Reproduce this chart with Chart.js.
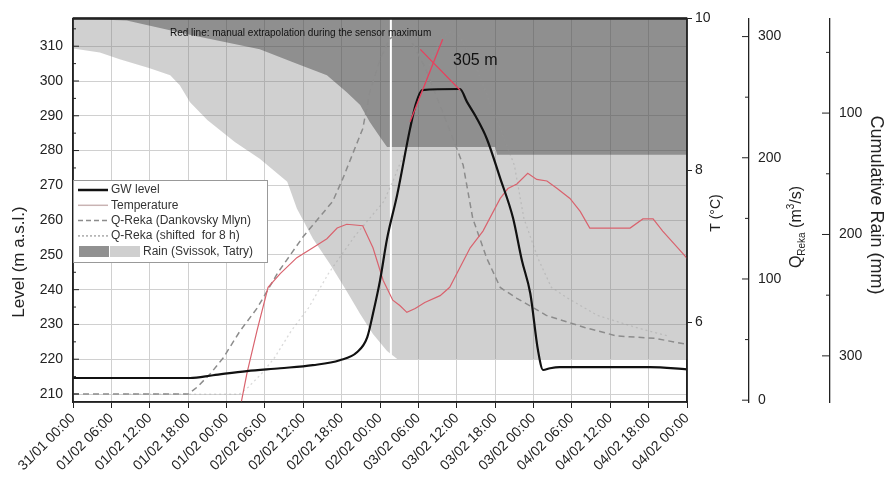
<!DOCTYPE html>
<html>
<head>
<meta charset="utf-8">
<script src="https://cdn.jsdelivr.net/npm/chart.js@4.4.1/dist/chart.umd.min.js"></script>
<style>
html, body { margin: 0; padding: 0; background: #fff; }
#wrap { width: 896px; height: 484px; }
</style>
</head>
<body>
<div id="wrap"><canvas id="gwChart" width="896" height="484"></canvas></div>
<script>
const tickLabels = ['31/01 00:00', '01/02 06:00', '01/02 12:00', '01/02 18:00', '01/02 00:00',
  '02/02 06:00', '02/02 12:00', '02/02 18:00', '02/02 00:00', '03/02 06:00', '03/02 12:00',
  '03/02 18:00', '03/02 00:00', '04/02 06:00', '04/02 12:00', '04/02 18:00', '04/02 00:00'];

// hours since start, groundwater level (m a.s.l.)
const gwHours = [0, 18.3, 21.9, 27.2, 32.4, 37.5, 41.7, 44.4, 46.0, 46.9, 48.0, 49.1, 50.7, 52.7, 53.6, 54.6,
  60.5, 61.6, 63.0, 64.7, 66.8, 68.8, 70.2, 71.5, 72.7, 73.5, 74.6, 76.1, 90.2, 96];
const gwLevel = [214.6, 214.6, 215.4, 216.6, 217.4, 218.3, 219.7, 222.0, 226.3, 233.1, 242.6, 254.6, 267.4, 286.3, 293.4, 297.4,
  297.7, 294.0, 289.7, 283.4, 272.0, 260.6, 248.3, 238.9, 222.6, 216.9, 217.4, 217.7, 217.7, 217.1];

// temperature (deg C)
const tempHours = [26.2, 27.2, 28.8, 30.5, 32.4, 35.0, 37.5, 39.7, 41.3, 42.8, 45.3, 46.9, 48.5, 50.0, 51.1, 52.2, 53.5,
  55.0, 57.4, 58.9, 62.1, 64.1, 66.8, 68.0, 69.4, 71.1, 72.5, 74.1, 75.7, 77.7, 79.3, 80.8, 87.1, 89.1, 90.7, 92.2, 95.4, 96];
const tempC = [4.9, 5.33, 5.90, 6.46, 6.64, 6.85, 6.98, 7.10, 7.24, 7.29, 7.27, 6.98, 6.55, 6.29, 6.22, 6.13, 6.18,
  6.26, 6.35, 6.46, 6.98, 7.20, 7.63, 7.76, 7.82, 7.96, 7.88, 7.86, 7.76, 7.63, 7.46, 7.24, 7.24, 7.36, 7.36, 7.20, 6.90, 6.84];

// river discharge (m3/s)
const qHours = [0, 18.0, 19.4, 21.5, 23.5, 26.1, 28.8, 32.0, 36.0, 40.6, 42.2, 45.3, 46.4, 48.0, 49.5, 51.0, 52.5,
  55.0, 58.0, 61.0, 62.5, 64.7, 66.8, 69.4, 74.0, 80.0, 85.0, 91.0, 96];
const qReka = [5, 5, 10.7, 22, 35, 57, 76, 105, 135, 164, 183, 224, 254, 281, 298, 304, 300,
  275, 235, 194, 150, 117, 93, 84, 70, 60, 53, 51, 46];
const qShiftHours = [8, 26.0, 27.4, 29.5, 31.5, 34.1, 36.8, 40.0, 44.0, 48.6, 50.2, 53.3, 54.4, 56.0, 57.5, 59.0, 60.5,
  63.0, 66.0, 69.0, 70.5, 72.7, 74.8, 77.4, 82.0, 88.0, 93.0];
const qShifted = [5, 5, 10.7, 22, 35, 57, 76, 105, 135, 164, 183, 224, 254, 281, 298, 304, 300,
  275, 235, 194, 150, 117, 93, 84, 70, 60, 53];

// cumulative rain (mm), hanging from the top
const rainDarkHours = [0, 8.4, 18.8, 24.1, 29.2, 34.4, 39.7, 42.8, 44.9, 46.4, 48.0, 49.1, 66.0, 66.3, 96];
const rainDark = [22.1, 23.8, 36.1, 41.8, 47.5, 58.2, 68.9, 82.8, 93.4, 107.4, 119.7, 127.9, 127.9, 134.4, 134.4];
const rainLightHours = [0, 4.2, 7.3, 12.0, 15.2, 16.7, 18.3, 21.0, 25.3, 29.2, 33.5, 35.0, 37.5, 40.2, 42.8, 44.9,
  46.9, 49.1, 50.7, 96];
const rainLight = [46.7, 50, 55.7, 63, 68.9, 77, 91, 105.7, 123.8, 137.7, 156.6, 178.7, 203.3, 224.6, 246.7, 265.6,
  282, 295.9, 302.5, 302.5];

// manual extrapolation of the peak
const redRiseHours = [52.7, 57.8];
const redRiseLevel = [288.3, 312.0];
const redFallHours = [54.3, 60.5];
const redFallLevel = [309.1, 297.4];
const gapHours = [49.7, 49.7];
const gapLevel = [318, 220.6];

const FONT = '"Liberation Sans", Arial, sans-serif';

function pts(xs, ys) {
  return xs.map(function(x, i) { return { x: x, y: ys[i] }; });
}

function lineSet(label, xs, ys, axis, color, width, dash, order) {
  return {
    label: label,
    data: pts(xs, ys),
    yAxisID: axis,
    borderColor: color,
    borderWidth: width,
    borderDash: dash || [],
    pointRadius: 0,
    fill: false,
    tension: 0,
    order: order
  };
}

const decor = {
  id: 'decor',
  afterDraw: function(chart) {
    const ctx = chart.ctx;
    const a = chart.chartArea;
    const sy = chart.scales.y, sq = chart.scales.yQ, sr = chart.scales.yRain;
    ctx.save();

    // plot frame
    ctx.strokeStyle = '#222';
    ctx.lineWidth = 1.5;
    ctx.strokeRect(a.left, a.top, a.right - a.left, a.bottom - a.top);
    ctx.lineWidth = 2.5;
    ctx.beginPath(); ctx.moveTo(a.left, a.top); ctx.lineTo(a.right, a.top); ctx.stroke();

    // inward ticks on the level axis
    ctx.lineWidth = 1;
    for (let v = 210; v <= 315; v += 5) {
      const y = sy.getPixelForValue(v);
      ctx.beginPath(); ctx.moveTo(a.left, y); ctx.lineTo(a.left + (v % 10 === 0 ? 6 : 3), y); ctx.stroke();
    }
    // ticks pointing left on the Q and rain axes
    for (let v = 0; v <= 300; v += 50) {
      const y = sq.getPixelForValue(v);
      ctx.beginPath(); ctx.moveTo(sq.left - (v % 100 === 0 ? 7 : 4), y); ctx.lineTo(sq.left, y); ctx.stroke();
    }
    for (let v = 50; v <= 300; v += 50) {
      const y = sr.getPixelForValue(v);
      ctx.beginPath(); ctx.moveTo(sr.left - (v % 100 === 0 ? 8 : 4), y); ctx.lineTo(sr.left, y); ctx.stroke();
    }

    // axis titles
    ctx.fillStyle = '#222';
    ctx.textBaseline = 'middle';
    ctx.textAlign = 'center';
    function vText(txt, x, y, size, ang) {
      ctx.save();
      ctx.translate(x, y);
      ctx.rotate(ang);
      ctx.font = size + 'px ' + FONT;
      ctx.fillText(txt, 0, 0);
      ctx.restore();
    }
    vText('Level (m a.s.l.)', 19, 262, 17, -Math.PI / 2);
    vText('T (°C)', 716, 213, 14, -Math.PI / 2);
    vText('Cumulative Rain (mm)', 876, 205, 18, Math.PI / 2);

    // Q title with sub- and superscript
    ctx.save();
    ctx.translate(797, 227);
    ctx.rotate(-Math.PI / 2);
    ctx.textAlign = 'left';
    const parts = [['Q', 16, 0], ['Reka', 10, 5], [' (m', 16, 0], ['3', 10, -6], ['/s)', 16, 0]];
    let total = 0;
    parts.forEach(function(p) { ctx.font = p[1] + 'px ' + FONT; total += ctx.measureText(p[0]).width; });
    let cx = -total / 2;
    parts.forEach(function(p) {
      ctx.font = p[1] + 'px ' + FONT;
      ctx.fillText(p[0], cx, p[2]);
      cx += ctx.measureText(p[0]).width;
    });
    ctx.restore();

    // legend box inside the plot
    const lx = 73.5, ly = 180.5, lw = 194, lh = 82;
    ctx.fillStyle = '#fff';
    ctx.fillRect(lx, ly, lw, lh);
    ctx.strokeStyle = '#999';
    ctx.lineWidth = 1;
    ctx.strokeRect(lx, ly, lw, lh);
    const rows = [
      { text: 'GW level', color: '#111', width: 2.5, dash: [] },
      { text: 'Temperature', color: '#c9b3b3', width: 1.5, dash: [] },
      { text: 'Q-Reka (Dankovsky Mlyn)', color: '#8c8c8c', width: 1.5, dash: [5, 3] },
      { text: 'Q-Reka (shifted  for 8 h)', color: '#aaa', width: 1.5, dash: [2, 2] }
    ];
    ctx.font = '12px ' + FONT;
    ctx.textAlign = 'left';
    rows.forEach(function(r, i) {
      const y = 190 + i * 15.3;
      ctx.strokeStyle = r.color;
      ctx.lineWidth = r.width;
      ctx.setLineDash(r.dash);
      ctx.beginPath(); ctx.moveTo(78, y); ctx.lineTo(108, y); ctx.stroke();
      ctx.setLineDash([]);
      ctx.fillStyle = '#333';
      ctx.fillText(r.text, 111, y);
    });
    ctx.fillStyle = '#919191';
    ctx.fillRect(79, 246, 30, 11);
    ctx.fillStyle = '#cfcfcf';
    ctx.fillRect(110, 246, 30, 11);
    ctx.fillStyle = '#333';
    ctx.fillText('Rain (Svissok, Tatry)', 143, 251.5);

    // annotations
    ctx.fillStyle = '#111';
    ctx.font = '10px ' + FONT;
    ctx.fillText('Red line: manual extrapolation during the sensor maximum', 170, 33);
    ctx.font = '16px ' + FONT;
    ctx.fillText('305 m', 453, 61);
    ctx.restore();
  }
};

const axisFont = { family: FONT, size: 14 };

const ctx = document.getElementById('gwChart').getContext('2d');
const chart = new Chart(ctx, {
  type: 'line',
  data: {
    datasets: [
      Object.assign(lineSet('Rain light', rainLightHours, rainLight, 'yRain', 'rgba(0,0,0,0)', 0, null, 10),
        { fill: 'end', backgroundColor: 'rgba(120,120,120,0.35)' }),
      Object.assign(lineSet('Rain dark', rainDarkHours, rainDark, 'yRain', 'rgba(0,0,0,0)', 0, null, 9),
        { fill: 'end', backgroundColor: 'rgba(60,60,60,0.445)' }),
      lineSet('gap', gapHours, gapLevel, 'y', '#ffffff', 2, null, 8),
      lineSet('Q-Reka (shifted for 8 h)', qShiftHours, qShifted, 'yQ', 'rgba(150,150,150,0.35)', 1.3, [2, 3], 6),
      lineSet('Q-Reka (Dankovsky Mlyn)', qHours, qReka, 'yQ', '#8c8c8c', 1.5, [6, 4], 5),
      lineSet('Temperature', tempHours, tempC, 'yT', '#d9636e', 1.2, null, 3),
      Object.assign(lineSet('GW level', gwHours, gwLevel, 'y', '#111', 2.2, null, 2),
        { cubicInterpolationMode: 'monotone' }),
      lineSet('extrapolation 1', redRiseHours, redRiseLevel, 'y', '#e8415e', 1.3, null, 1),
      lineSet('extrapolation 2', redFallHours, redFallLevel, 'y', '#e8415e', 1.3, null, 1)
    ]
  },
  options: {
    responsive: false,
    animation: false,
    devicePixelRatio: 1,
    layout: { padding: { top: 16, left: 0, right: 0, bottom: 0 } },
    plugins: { legend: { display: false }, tooltip: { enabled: false } },
    scales: {
      x: {
        type: 'linear',
        min: 0,
        max: 96,
        afterFit: function(s) { s.height = 82; },
        ticks: {
          stepSize: 6,
          autoSkip: false,
          includeBounds: false,
          maxRotation: 45,
          minRotation: 45,
          font: axisFont,
          color: '#222',
          padding: 2,
          callback: function(v) { return tickLabels[Math.round(v / 6)]; }
        },
        grid: { color: '#d0d0d0', tickLength: 6, tickColor: '#222' },
        border: { color: '#222', width: 1.5 }
      },
      y: {
        position: 'left',
        min: 207.7,
        max: 318,
        afterFit: function(s) { s.width = 73; },
        ticks: { stepSize: 10, includeBounds: false, font: axisFont, color: '#222', padding: 10 },
        grid: { color: '#d0d0d0', drawTicks: false },
        border: { color: '#222', width: 1.5 }
      },
      yT: {
        position: 'right',
        weight: 0,
        min: 4.95,
        max: 10,
        afterFit: function(s) { s.width = 62; },
        ticks: { stepSize: 2, includeBounds: false, font: axisFont, color: '#222', padding: 3 },
        grid: { drawOnChartArea: false, tickLength: 5, tickColor: '#222' },
        border: { color: '#222', width: 1.5 }
      },
      yQ: {
        position: 'right',
        weight: 1,
        min: -1.5,
        max: 315,
        afterFit: function(s) { s.width = 81; },
        ticks: { stepSize: 100, includeBounds: false, font: axisFont, color: '#222', padding: 9 },
        grid: { drawOnChartArea: false, drawTicks: false },
        border: { color: '#222', width: 1.3 }
      },
      yRain: {
        position: 'right',
        weight: 2,
        reverse: true,
        min: 22,
        max: 338,
        afterFit: function(s) { s.width = 66; },
        ticks: { stepSize: 100, includeBounds: false, font: axisFont, color: '#222', padding: 9 },
        grid: { drawOnChartArea: false, drawTicks: false },
        border: { color: '#222', width: 1.3 }
      }
    }
  },
  plugins: [decor]
});
</script>
</body>
</html>
